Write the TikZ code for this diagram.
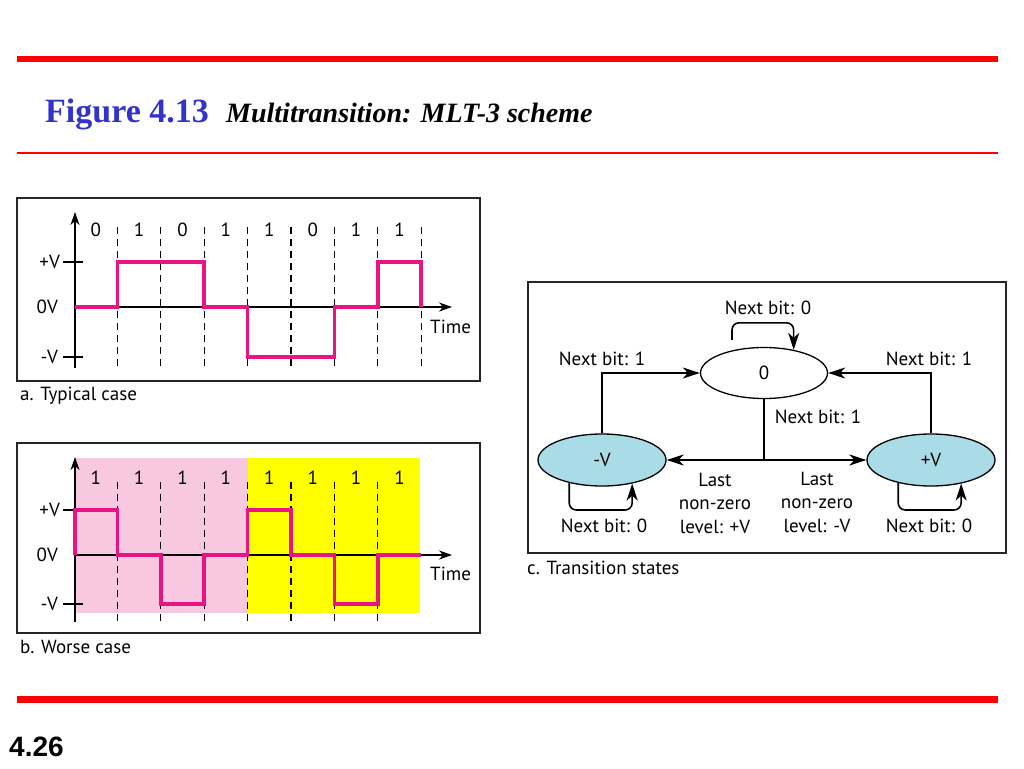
\documentclass[tikz,border=0pt]{standalone}
\usepackage{fontspec}
\setmainfont{PT Sans}
\newfontfamily\titlefont{Liberation Serif}
\newfontfamily\pagefont{Liberation Sans}
\usetikzlibrary{calc, shapes.geometric, arrows.meta}

\definecolor{slidered}{RGB}{255,0,0}
\definecolor{figblue}{RGB}{51,51,204}
\definecolor{sigpink}{RGB}{232,20,130}
\definecolor{bgpink}{RGB}{248,200,225}
\definecolor{bgyellow}{RGB}{255,255,0}
\definecolor{stateblue}{RGB}{170,220,232}

\begin{document}
\begin{tikzpicture}[x=1pt, y=-1pt]

  % Styles for the waveforms and the state diagram
  \tikzset{
    lbl/.style={inner sep=0pt, font=\fontsize{19}{23.5}\selectfont},
    panel/.style={line width=1.3pt, black!85},
    axis/.style={line width=1.3pt, -{Stealth[length=13pt,width=9pt,inset=4pt]}},
    wave/.style={line width=3.5pt, sigpink, line join=miter},
    bitline/.style={line width=1.2pt, dash pattern=on 7pt off 5pt},
    state/.style={ellipse, draw, line width=1.3pt, minimum width=127pt,
      minimum height=51pt, inner sep=0pt, font=\fontsize{19}{22}\selectfont},
    conn/.style={line width=1.6pt},
    tip/.style={-{Stealth[length=17pt,width=11pt,inset=5pt]}},
    selfloop/.style={line width=1.6pt, rounded corners=7pt}
  }

  \useasboundingbox (0,0) rectangle (1024,768);

  % --- SLIDE FRAME ---
  \fill[slidered] (17,56) rectangle (998,62);
  \fill[slidered] (17,152) rectangle (998,154);
  \fill[slidered] (17,696) rectangle (998,703);

  \node[anchor=base west, inner sep=0pt, text=figblue,
    font=\titlefont\bfseries\fontsize{34}{36}\selectfont] (fignum) at (45,122) {Figure 4.13};
  \node[anchor=base west, inner sep=0pt,
    font=\titlefont\bfseries\itshape\fontsize{28}{30}\selectfont] (figtitle) at (226,122) {Multitransition: MLT-3 scheme};
  \node[anchor=base west, inner sep=0pt,
    font=\pagefont\bfseries\fontsize{28}{30}\selectfont] (pagenum) at (9,756) {4.26};

  % --- a. TYPICAL CASE ---
  \draw[panel] (17,198) rectangle (480,381);
  \node[lbl, anchor=west] (capa) at (20,396) {a. Typical case};

  \foreach \i in {1,...,8}
    \draw[bitline] ({74+43.4*\i},227) -- ({74+43.4*\i},368);
  \foreach \b [count=\i] in {0,1,0,1,1,0,1,1}
    \node[lbl] (bita\i) at ({52.3+43.4*\i},230) {\b};

  \draw[axis] (75,368) -- (75,212);
  \draw[axis] (75,307) -- (452,307);
  \draw[line width=1.3pt] (63,262) -- (83,262);
  \draw[line width=1.3pt] (63,357) -- (83,357);
  \node[lbl, anchor=east] (pva) at (60,262) {+V};
  \node[lbl, anchor=east] (zva) at (58,307) {0V};
  \node[lbl, anchor=east] (nva) at (58,357) {-V};
  \node[lbl, anchor=west] (timea) at (430,327) {Time};

  \draw[wave] (75,307) -- (117.4,307) -- (117.4,262) -- (204.2,262)
    -- (204.2,307) -- (247.6,307) -- (247.6,357) -- (334.4,357)
    -- (334.4,307) -- (377.8,307) -- (377.8,262) -- (421.2,262) -- (421.2,307);

  % --- b. WORSE CASE ---
  \draw[panel] (17,443) rectangle (480,633);
  \node[lbl, anchor=west] (capb) at (20,647) {b. Worse case};

  \fill[bgpink] (75,458) rectangle (247.6,613);
  \fill[bgyellow] (247.6,458) rectangle (420,613);

  \foreach \i in {1,...,7}
    \draw[bitline] ({74+43.4*\i},482) -- ({74+43.4*\i},623);
  \foreach \i in {1,...,8}
    \node[lbl] (bitb\i) at ({52.3+43.4*\i},478) {1};

  \draw[axis] (75,622) -- (75,457);
  \draw[axis] (75,555) -- (452,555);
  \draw[line width=1.3pt] (63,510) -- (83,510);
  \draw[line width=1.3pt] (63,604) -- (83,604);
  \node[lbl, anchor=east] (pvb) at (60,510) {+V};
  \node[lbl, anchor=east] (zvb) at (58,555) {0V};
  \node[lbl, anchor=east] (nvb) at (58,604) {-V};
  \node[lbl, anchor=west] (timeb) at (430,574) {Time};

  \draw[wave] (75,555) -- (75,510) -- (117.4,510) -- (117.4,555)
    -- (160.8,555) -- (160.8,604) -- (204.2,604) -- (204.2,555)
    -- (247.6,555) -- (247.6,510) -- (291,510) -- (291,555)
    -- (334.4,555) -- (334.4,604) -- (377.8,604) -- (377.8,555) -- (421.2,555);

  % --- c. TRANSITION STATES ---
  \draw[panel] (528,282) rectangle (1006,553);
  \node[lbl, anchor=west] (capc) at (527,568) {c. Transition states};

  \node[state, fill=white] (zero) at (764,373) {0};
  \node[state, fill=stateblue, minimum width=128pt, minimum height=52pt] (neg) at (602,460) {-V};
  \node[state, fill=stateblue, minimum width=128pt, minimum height=52pt] (pos) at (931,460) {+V};

  % Next bit 1: back to zero
  \draw[conn, tip] (neg.north) |- (zero.west);
  \draw[conn, tip] (pos.north) |- (zero.east);
  \draw[conn] (zero.south) -- (zero.south |- neg.east) coordinate (split);
  \draw[conn, tip] (split) -- (neg.east);
  \draw[conn, tip] (split) -- (pos.west);

  % Next bit 0: stay
  \coordinate (zloop) at ($(zero.north)+(-32,-7)$);
  \draw[selfloop, tip] (zloop) -- ++(0,-17) -| (zero.38);
  \draw[selfloop, tip] (neg.215) -- ++(0,27) -| (neg.322);
  \draw[selfloop, tip] (pos.215) -- ++(0,27) -| (pos.322);

  % Labels
  \node[lbl] (nb0z) at (768,308) {Next bit: 0};
  \node[lbl] (nb1n) at (602,359) {Next bit: 1};
  \node[lbl] (nb1p) at (929,359) {Next bit: 1};
  \node[lbl] (nb1z) at (818,417) {Next bit: 1};
  \node[lbl, align=center] (lastp) at (715,503) {Last\\non-zero\\level: +V};
  \node[lbl, align=center] (lastn) at (817,502) {Last\\non-zero\\level: -V};
  \node[lbl] (nb0n) at (604,526) {Next bit: 0};
  \node[lbl] (nb0p) at (929,526) {Next bit: 0};

\end{tikzpicture}
\end{document}
